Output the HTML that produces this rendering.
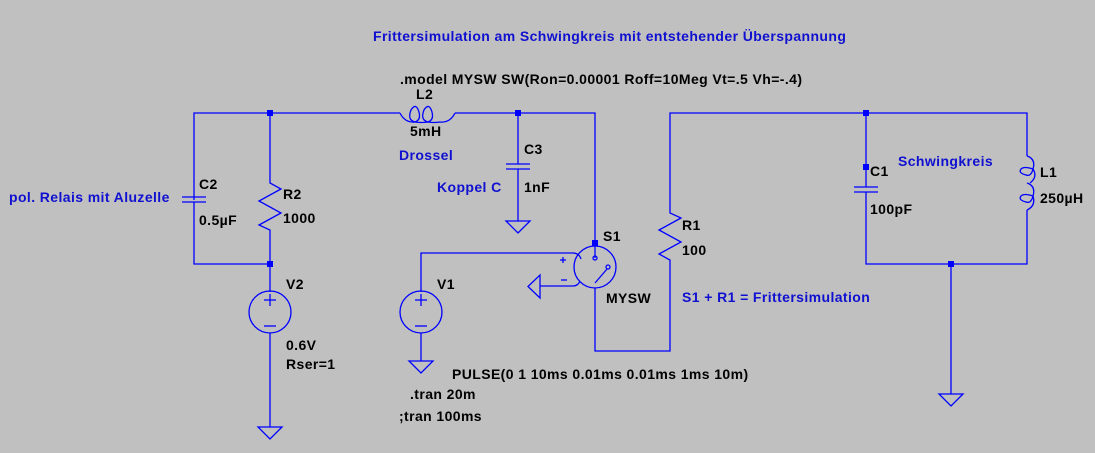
<!DOCTYPE html>
<html><head><style>
body{margin:0;background:#c0c0c0;}
svg{display:block;font-family:"Liberation Sans",sans-serif;font-weight:bold;font-size:14px;letter-spacing:0.4px;}
.b{fill:#1010d0}.k{fill:#000}
</style></head><body>
<svg width="1095" height="453" viewBox="0 0 1095 453">
<g fill="none" stroke="#0000ff" stroke-width="1.3">
<polyline points="194,200 194,113 400,113"/>
<polyline points="455,113 595,113 595,250"/>
<polyline points="194,202 194,264 270,264"/>
<line x1="182" y1="197" x2="206" y2="197"/><line x1="182" y1="202" x2="206" y2="202"/>
<polyline points="270,113 270,183 281,189 259,201 281,213 259,225 270,230 270,292"/>
<circle cx="270" cy="312" r="21"/>
<line x1="270" y1="333" x2="270" y2="427"/>
<path d="M258,427 h24 l-12,12 z"/>
<line x1="264" y1="300" x2="276" y2="300"/><line x1="270" y1="294" x2="270" y2="306"/>
<line x1="264" y1="326" x2="276" y2="326"/>
<path d="M400,113 q5,10 15,9 M455,113 q-5,10 -15,9"/>
<path d="M415,122 q-8,-2 -4,-12 q5,-8 8,2 q2,8 -4,10 M428,122 q-8,-2 -4,-12 q5,-8 8,2 q2,8 -4,10 M415,122 q6,1 13,0 q6,1 12,0"/>
<line x1="518" y1="113" x2="518" y2="164"/>
<line x1="506" y1="164" x2="530" y2="164"/><line x1="506" y1="169" x2="530" y2="169"/>
<line x1="518" y1="169" x2="518" y2="221"/>
<path d="M506,221 h24 l-12,12 z"/>
<polyline points="421,292 421,253 573,253"/>
<path d="M573,253 q6,0 8,6"/>
<circle cx="421" cy="312" r="21"/>
<line x1="415" y1="300" x2="427" y2="300"/><line x1="421" y1="294" x2="421" y2="306"/>
<line x1="415" y1="326" x2="427" y2="326"/>
<line x1="421" y1="333" x2="421" y2="361"/>
<path d="M409,361 h24 l-12,12 z"/>
<circle cx="595" cy="267" r="21"/>
<line x1="595" y1="250" x2="595" y2="258"/>
<circle cx="595" cy="258" r="2"/>
<circle cx="608" cy="267" r="2"/>
<line x1="607" y1="269" x2="595" y2="283"/>
<line x1="560" y1="260" x2="566" y2="260"/><line x1="563" y1="257" x2="563" y2="263"/>
<line x1="561" y1="280" x2="567" y2="280"/>
<path d="M567,286 h6 q5,0 7,-5"/>
<polyline points="567,286 540,286"/>
<path d="M540,275 v23 l-12,-11.5 z"/>
<polyline points="595,288 595,351 670,351 670,260 659,254 681,242 659,230 681,218 670,213 670,113 1027,113 1027,156"/>
<line x1="866" y1="113" x2="866" y2="187"/>
<line x1="854" y1="187" x2="878" y2="187"/><line x1="854" y1="192" x2="878" y2="192"/>
<polyline points="866,192 866,264 1027,264 1027,210"/>
<line x1="951" y1="264" x2="951" y2="394"/>
<path d="M939,394 h24 l-12,12 z"/>
<path d="M1027,156 q9,3 6,13 q-2,8 -7,6 q-8,-2 -5,-6 q3,-3 12,0 M1027,183 q9,3 6,13 q-2,8 -7,6 q-8,-2 -5,-6 q3,-3 12,0 M1033,169 q5,8 -3,14 M1033,196 q3,10 -6,14"/>
</g>
<g fill="#0000ff">
<rect x="267" y="110" width="6" height="6"/><rect x="515" y="110" width="6" height="6"/>
<rect x="267" y="261" width="6" height="6"/><rect x="592" y="240" width="6" height="6"/>
<rect x="863" y="110" width="6" height="6"/><rect x="863" y="164" width="6" height="6"/>
<rect x="948" y="261" width="6" height="6"/>
</g>
<text class="b" x="373" y="41">Frittersimulation am Schwingkreis mit entstehender Überspannung</text>
<text class="k" x="400" y="84">.model MYSW SW(Ron=0.00001 Roff=10Meg Vt=.5 Vh=-.4)</text>
<text class="k" x="416" y="99">L2</text>
<text class="k" x="410" y="136">5mH</text>
<text class="b" x="399" y="160">Drossel</text>
<text class="k" x="524" y="154">C3</text>
<text class="b" x="437" y="192">Koppel C</text>
<text class="k" x="524" y="192">1nF</text>
<text class="k" x="199" y="189">C2</text>
<text class="k" x="199" y="225">0.5µF</text>
<text class="b" x="9" y="202">pol. Relais mit Aluzelle</text>
<text class="k" x="283" y="199">R2</text>
<text class="k" x="283" y="223">1000</text>
<text class="k" x="286" y="289">V2</text>
<text class="k" x="286" y="350">0.6V</text>
<text class="k" x="286" y="369">Rser=1</text>
<text class="k" x="437" y="289">V1</text>
<text class="k" x="603" y="241">S1</text>
<text class="k" x="606" y="303">MYSW</text>
<text class="k" x="682" y="230">R1</text>
<text class="k" x="682" y="255">100</text>
<text class="b" x="682" y="302">S1 + R1 = Frittersimulation</text>
<text class="k" x="452" y="379">PULSE(0 1 10ms 0.01ms 0.01ms 1ms 10m)</text>
<text class="k" x="410" y="399">.tran 20m</text>
<text class="k" x="399" y="421">;tran 100ms</text>
<text class="k" x="870" y="176">C1</text>
<text class="k" x="870" y="214">100pF</text>
<text class="b" x="898" y="166">Schwingkreis</text>
<text class="k" x="1040" y="177">L1</text>
<text class="k" x="1040" y="203">250µH</text>
</svg>
</body></html>
